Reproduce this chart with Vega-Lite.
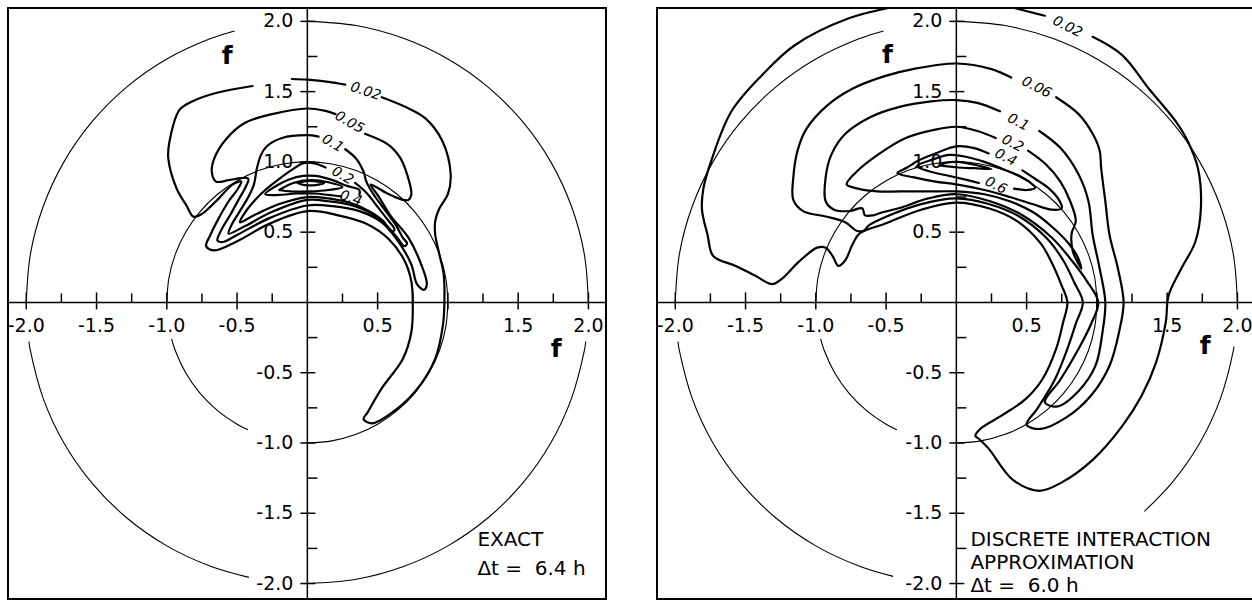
{
"$schema":"https://vega.github.io/schema/vega-lite/v6.json",
"background":"white",
"padding":{"left":6,"top":6,"right":0,"bottom":0},
"spacing":47,
"config":{"view":{"stroke":"#000","strokeWidth":2},"font":"DejaVu Sans"},
"datasets":{
"circ":[
{"s":"a","o":0,"x":1,"y":0},{"s":"a","o":1,"x":0.985,"y":0.174},{"s":"a","o":2,"x":0.94,"y":0.342},{"s":"a","o":3,"x":0.866,"y":0.5},{"s":"a","o":4,"x":0.766,"y":0.643},{"s":"a","o":5,"x":0.643,"y":0.766},{"s":"a","o":6,"x":0.5,"y":0.866},{"s":"a","o":7,"x":0.342,"y":0.94},{"s":"a","o":8,"x":0.174,"y":0.985},{"s":"a","o":9,"x":0,"y":1},{"s":"a","o":10,"x":-0.174,"y":0.985},{"s":"a","o":11,"x":-0.342,"y":0.94},{"s":"a","o":12,"x":-0.5,"y":0.866},{"s":"a","o":13,"x":-0.643,"y":0.766},{"s":"a","o":14,"x":-0.766,"y":0.643},{"s":"a","o":15,"x":-0.866,"y":0.5},{"s":"a","o":16,"x":-0.94,"y":0.342},{"s":"a","o":17,"x":-0.985,"y":0.174},{"s":"a","o":18,"x":-1,"y":0},
{"s":"b","o":0,"x":-0.966,"y":-0.259},{"s":"b","o":1,"x":-0.94,"y":-0.342},{"s":"b","o":2,"x":-0.866,"y":-0.5},{"s":"b","o":3,"x":-0.766,"y":-0.643},{"s":"b","o":4,"x":-0.643,"y":-0.766},{"s":"b","o":5,"x":-0.5,"y":-0.866},{"s":"b","o":6,"x":-0.423,"y":-0.906},
{"s":"c","o":0,"x":0,"y":-1},{"s":"c","o":1,"x":0.174,"y":-0.985},{"s":"c","o":2,"x":0.342,"y":-0.94},{"s":"c","o":3,"x":0.5,"y":-0.866},{"s":"c","o":4,"x":0.643,"y":-0.766},{"s":"c","o":5,"x":0.766,"y":-0.643},{"s":"c","o":6,"x":0.866,"y":-0.5},{"s":"c","o":7,"x":0.94,"y":-0.342},{"s":"c","o":8,"x":0.985,"y":-0.174},{"s":"c","o":9,"x":1,"y":0},
{"s":"d","o":0,"x":2,"y":0},{"s":"d","o":1,"x":1.97,"y":0.347},{"s":"d","o":2,"x":1.879,"y":0.684},{"s":"d","o":3,"x":1.732,"y":1},{"s":"d","o":4,"x":1.532,"y":1.286},{"s":"d","o":5,"x":1.286,"y":1.532},{"s":"d","o":6,"x":1,"y":1.732},{"s":"d","o":7,"x":0.684,"y":1.879},{"s":"d","o":8,"x":0.347,"y":1.97},{"s":"d","o":9,"x":0,"y":2},
{"s":"e","o":0,"x":-0.518,"y":1.932},{"s":"e","o":1,"x":-0.684,"y":1.879},{"s":"e","o":2,"x":-1,"y":1.732},{"s":"e","o":3,"x":-1.286,"y":1.532},{"s":"e","o":4,"x":-1.532,"y":1.286},{"s":"e","o":5,"x":-1.732,"y":1},{"s":"e","o":6,"x":-1.879,"y":0.684},{"s":"e","o":7,"x":-1.97,"y":0.347},{"s":"e","o":8,"x":-2,"y":0}
],
"circL":[
{"s":"f","o":0,"x":-1.981,"y":-0.278},{"s":"f","o":1,"x":-1.97,"y":-0.347},{"s":"f","o":2,"x":-1.879,"y":-0.684},{"s":"f","o":3,"x":-1.732,"y":-1},{"s":"f","o":4,"x":-1.532,"y":-1.286},{"s":"f","o":5,"x":-1.286,"y":-1.532},{"s":"f","o":6,"x":-1,"y":-1.732},{"s":"f","o":7,"x":-0.684,"y":-1.879},{"s":"f","o":8,"x":-0.416,"y":-1.956},
{"s":"g","o":0,"x":0,"y":-2},{"s":"g","o":1,"x":0.347,"y":-1.97},{"s":"g","o":2,"x":0.684,"y":-1.879},{"s":"g","o":3,"x":1,"y":-1.732},{"s":"g","o":4,"x":1.286,"y":-1.532},{"s":"g","o":5,"x":1.532,"y":-1.286},{"s":"g","o":6,"x":1.732,"y":-1},{"s":"g","o":7,"x":1.879,"y":-0.684},{"s":"g","o":8,"x":1.97,"y":-0.347},{"s":"g","o":9,"x":1.981,"y":-0.278}
],
"circR":[
{"s":"f","o":0,"x":-1.981,"y":-0.278},{"s":"f","o":1,"x":-1.97,"y":-0.347},{"s":"f","o":2,"x":-1.879,"y":-0.684},{"s":"f","o":3,"x":-1.732,"y":-1},{"s":"f","o":4,"x":-1.532,"y":-1.286},{"s":"f","o":5,"x":-1.286,"y":-1.532},{"s":"f","o":6,"x":-1,"y":-1.732},{"s":"f","o":7,"x":-0.684,"y":-1.879},{"s":"f","o":8,"x":-0.45,"y":-1.949},
{"s":"g","o":0,"x":1.338,"y":-1.486},{"s":"g","o":1,"x":1.532,"y":-1.286},{"s":"g","o":2,"x":1.732,"y":-1},{"s":"g","o":3,"x":1.879,"y":-0.684},{"s":"g","o":4,"x":1.97,"y":-0.347},{"s":"g","o":5,"x":1.975,"y":-0.313}
],
"conL":[
{"s":"L1a","o":0,"x":0.53,"y":1.46},{"s":"L1a","o":1,"x":0.7,"y":1.39},{"s":"L1a","o":2,"x":0.84,"y":1.31},{"s":"L1a","o":3,"x":0.96,"y":1.15},{"s":"L1a","o":4,"x":1.02,"y":0.91},{"s":"L1a","o":5,"x":1.0,"y":0.77},{"s":"L1a","o":6,"x":0.94,"y":0.67},{"s":"L1a","o":7,"x":0.91,"y":0.58},{"s":"L1a","o":8,"x":0.91,"y":0.48},{"s":"L1a","o":9,"x":0.94,"y":0.34},{"s":"L1a","o":10,"x":0.97,"y":0.2},{"s":"L1a","o":11,"x":0.975,"y":0.0},{"s":"L1a","o":12,"x":0.965,"y":-0.16},{"s":"L1a","o":13,"x":0.91,"y":-0.4},{"s":"L1a","o":14,"x":0.77,"y":-0.63},{"s":"L1a","o":15,"x":0.58,"y":-0.8},{"s":"L1a","o":16,"x":0.46,"y":-0.86},{"s":"L1a","o":17,"x":0.4,"y":-0.83},{"s":"L1a","o":18,"x":0.43,"y":-0.78},{"s":"L1a","o":19,"x":0.53,"y":-0.61},{"s":"L1a","o":20,"x":0.68,"y":-0.4},{"s":"L1a","o":21,"x":0.74,"y":-0.21},{"s":"L1a","o":22,"x":0.75,"y":0.0},{"s":"L1a","o":23,"x":0.74,"y":0.15},{"s":"L1a","o":24,"x":0.69,"y":0.3},{"s":"L1a","o":25,"x":0.58,"y":0.45},{"s":"L1a","o":26,"x":0.42,"y":0.56},{"s":"L1a","o":27,"x":0.22,"y":0.62},{"s":"L1a","o":28,"x":0,"y":0.65},{"s":"L1a","o":29,"x":-0.27,"y":0.56},{"s":"L1a","o":30,"x":-0.51,"y":0.43},{"s":"L1a","o":31,"x":-0.66,"y":0.37},{"s":"L1a","o":32,"x":-0.72,"y":0.4},{"s":"L1a","o":33,"x":-0.69,"y":0.48},{"s":"L1a","o":34,"x":-0.63,"y":0.6},{"s":"L1a","o":35,"x":-0.56,"y":0.72},{"s":"L1a","o":36,"x":-0.5,"y":0.8},{"s":"L1a","o":37,"x":-0.47,"y":0.86},{"s":"L1a","o":38,"x":-0.53,"y":0.84},{"s":"L1a","o":39,"x":-0.65,"y":0.72},{"s":"L1a","o":40,"x":-0.75,"y":0.63},{"s":"L1a","o":41,"x":-0.81,"y":0.61},{"s":"L1a","o":42,"x":-0.86,"y":0.69},{"s":"L1a","o":43,"x":-0.93,"y":0.81},{"s":"L1a","o":44,"x":-0.99,"y":1.03},{"s":"L1a","o":45,"x":-0.98,"y":1.15},{"s":"L1a","o":46,"x":-0.91,"y":1.37},{"s":"L1a","o":47,"x":-0.82,"y":1.43},{"s":"L1a","o":48,"x":-0.65,"y":1.49},{"s":"L1a","o":49,"x":-0.39,"y":1.54},
{"s":"L1b","o":0,"x":-0.11,"y":1.59},{"s":"L1b","o":1,"x":0,"y":1.585},{"s":"L1b","o":2,"x":0.15,"y":1.57},{"s":"L1b","o":3,"x":0.27,"y":1.55},
{"s":"L2","o":0,"x":0.41,"y":1.2},{"s":"L2","o":1,"x":0.58,"y":1.12},{"s":"L2","o":2,"x":0.66,"y":1.03},{"s":"L2","o":3,"x":0.71,"y":0.91},{"s":"L2","o":4,"x":0.74,"y":0.77},{"s":"L2","o":5,"x":0.72,"y":0.73},{"s":"L2","o":6,"x":0.68,"y":0.73},{"s":"L2","o":7,"x":0.56,"y":0.78},{"s":"L2","o":8,"x":0.45,"y":0.84},{"s":"L2","o":9,"x":0.51,"y":0.75},{"s":"L2","o":10,"x":0.59,"y":0.62},{"s":"L2","o":11,"x":0.72,"y":0.46},{"s":"L2","o":12,"x":0.81,"y":0.27},{"s":"L2","o":13,"x":0.85,"y":0.13},{"s":"L2","o":14,"x":0.83,"y":0.09},{"s":"L2","o":15,"x":0.78,"y":0.13},{"s":"L2","o":16,"x":0.74,"y":0.27},{"s":"L2","o":17,"x":0.65,"y":0.43},{"s":"L2","o":18,"x":0.53,"y":0.57},{"s":"L2","o":19,"x":0.37,"y":0.65},{"s":"L2","o":20,"x":0.18,"y":0.685},{"s":"L2","o":21,"x":0,"y":0.69},{"s":"L2","o":22,"x":-0.27,"y":0.6},{"s":"L2","o":23,"x":-0.5,"y":0.48},{"s":"L2","o":24,"x":-0.6,"y":0.43},{"s":"L2","o":25,"x":-0.64,"y":0.44},{"s":"L2","o":26,"x":-0.61,"y":0.52},{"s":"L2","o":27,"x":-0.55,"y":0.62},{"s":"L2","o":28,"x":-0.49,"y":0.73},{"s":"L2","o":29,"x":-0.44,"y":0.82},{"s":"L2","o":30,"x":-0.42,"y":0.88},{"s":"L2","o":31,"x":-0.47,"y":0.885},{"s":"L2","o":32,"x":-0.56,"y":0.87},{"s":"L2","o":33,"x":-0.65,"y":0.86},{"s":"L2","o":34,"x":-0.68,"y":0.93},{"s":"L2","o":35,"x":-0.66,"y":1.03},{"s":"L2","o":36,"x":-0.58,"y":1.16},{"s":"L2","o":37,"x":-0.44,"y":1.28},{"s":"L2","o":38,"x":-0.25,"y":1.34},{"s":"L2","o":39,"x":0,"y":1.38},{"s":"L2","o":40,"x":0.12,"y":1.365},{"s":"L2","o":41,"x":0.2,"y":1.34},
{"s":"L3","o":0,"x":0.27,"y":1.09},{"s":"L3","o":1,"x":0.35,"y":1.02},{"s":"L3","o":2,"x":0.4,"y":0.93},{"s":"L3","o":3,"x":0.42,"y":0.86},{"s":"L3","o":4,"x":0.47,"y":0.77},{"s":"L3","o":5,"x":0.55,"y":0.66},{"s":"L3","o":6,"x":0.63,"y":0.55},{"s":"L3","o":7,"x":0.68,"y":0.46},{"s":"L3","o":8,"x":0.71,"y":0.42},{"s":"L3","o":9,"x":0.69,"y":0.4},{"s":"L3","o":10,"x":0.64,"y":0.46},{"s":"L3","o":11,"x":0.56,"y":0.55},{"s":"L3","o":12,"x":0.45,"y":0.635},{"s":"L3","o":13,"x":0.3,"y":0.695},{"s":"L3","o":14,"x":0.15,"y":0.72},{"s":"L3","o":15,"x":0,"y":0.73},{"s":"L3","o":16,"x":-0.25,"y":0.645},{"s":"L3","o":17,"x":-0.45,"y":0.54},{"s":"L3","o":18,"x":-0.56,"y":0.49},{"s":"L3","o":19,"x":-0.54,"y":0.55},{"s":"L3","o":20,"x":-0.48,"y":0.65},{"s":"L3","o":21,"x":-0.42,"y":0.75},{"s":"L3","o":22,"x":-0.38,"y":0.84},{"s":"L3","o":23,"x":-0.36,"y":0.95},{"s":"L3","o":24,"x":-0.33,"y":1.05},{"s":"L3","o":25,"x":-0.29,"y":1.11},{"s":"L3","o":26,"x":-0.18,"y":1.17},{"s":"L3","o":27,"x":0,"y":1.19},{"s":"L3","o":28,"x":0.08,"y":1.18},
{"s":"L4","o":0,"x":0.34,"y":0.85},{"s":"L4","o":1,"x":0.42,"y":0.78},{"s":"L4","o":2,"x":0.5,"y":0.68},{"s":"L4","o":3,"x":0.57,"y":0.59},{"s":"L4","o":4,"x":0.62,"y":0.52},{"s":"L4","o":5,"x":0.6,"y":0.5},{"s":"L4","o":6,"x":0.54,"y":0.58},{"s":"L4","o":7,"x":0.44,"y":0.65},{"s":"L4","o":8,"x":0.3,"y":0.71},{"s":"L4","o":9,"x":0.15,"y":0.74},{"s":"L4","o":10,"x":0,"y":0.75},{"s":"L4","o":11,"x":-0.2,"y":0.7},{"s":"L4","o":12,"x":-0.38,"y":0.62},{"s":"L4","o":13,"x":-0.48,"y":0.57},{"s":"L4","o":14,"x":-0.45,"y":0.63},{"s":"L4","o":15,"x":-0.38,"y":0.72},{"s":"L4","o":16,"x":-0.3,"y":0.8},{"s":"L4","o":17,"x":-0.2,"y":0.88},{"s":"L4","o":18,"x":-0.1,"y":0.95},{"s":"L4","o":19,"x":-0.03,"y":0.99},{"s":"L4","o":20,"x":0.05,"y":0.99},{"s":"L4","o":21,"x":0.13,"y":0.96},
{"s":"L5","o":0,"x":0.37,"y":0.765},{"s":"L5","o":1,"x":0.37,"y":0.8},{"s":"L5","o":2,"x":0.28,"y":0.83},{"s":"L5","o":3,"x":0.18,"y":0.87},{"s":"L5","o":4,"x":0.06,"y":0.9},{"s":"L5","o":5,"x":-0.03,"y":0.9},{"s":"L5","o":6,"x":-0.13,"y":0.875},{"s":"L5","o":7,"x":-0.22,"y":0.83},{"s":"L5","o":8,"x":-0.3,"y":0.77},{"s":"L5","o":9,"x":-0.2,"y":0.765},{"s":"L5","o":10,"x":-0.08,"y":0.775},{"s":"L5","o":11,"x":0.05,"y":0.775},{"s":"L5","o":12,"x":0.15,"y":0.765},{"s":"L5","o":13,"x":0.24,"y":0.755},
{"s":"L6","o":0,"x":-0.2,"y":0.8},{"s":"L6","o":1,"x":-0.1,"y":0.85},{"s":"L6","o":2,"x":0.02,"y":0.87},{"s":"L6","o":3,"x":0.15,"y":0.855},{"s":"L6","o":4,"x":0.25,"y":0.82},{"s":"L6","o":5,"x":0.15,"y":0.8},{"s":"L6","o":6,"x":0.02,"y":0.79},{"s":"L6","o":7,"x":-0.12,"y":0.79},{"s":"L6","o":8,"x":-0.2,"y":0.8},
{"s":"L7","o":0,"x":-0.07,"y":0.85},{"s":"L7","o":1,"x":0,"y":0.865},{"s":"L7","o":2,"x":0.08,"y":0.86},{"s":"L7","o":3,"x":0.12,"y":0.85},{"s":"L7","o":4,"x":0.06,"y":0.835},{"s":"L7","o":5,"x":-0.02,"y":0.835},{"s":"L7","o":6,"x":-0.07,"y":0.85}
],
"conR":[
{"s":"R1","o":0,"x":0.97,"y":1.89},{"s":"R1","o":1,"x":1.18,"y":1.76},{"s":"R1","o":2,"x":1.37,"y":1.52},{"s":"R1","o":3,"x":1.56,"y":1.29},{"s":"R1","o":4,"x":1.65,"y":1.14},{"s":"R1","o":5,"x":1.72,"y":0.95},{"s":"R1","o":6,"x":1.74,"y":0.67},{"s":"R1","o":7,"x":1.7,"y":0.43},{"s":"R1","o":8,"x":1.6,"y":0.24},{"s":"R1","o":9,"x":1.51,"y":0.05},{"s":"R1","o":10,"x":1.49,"y":-0.14},{"s":"R1","o":11,"x":1.42,"y":-0.43},{"s":"R1","o":12,"x":1.32,"y":-0.66},{"s":"R1","o":13,"x":1.18,"y":-0.88},{"s":"R1","o":14,"x":0.97,"y":-1.12},{"s":"R1","o":15,"x":0.75,"y":-1.28},{"s":"R1","o":16,"x":0.59,"y":-1.34},{"s":"R1","o":17,"x":0.4,"y":-1.26},{"s":"R1","o":18,"x":0.23,"y":-1.04},{"s":"R1","o":19,"x":0.16,"y":-0.97},{"s":"R1","o":20,"x":0.135,"y":-0.95},{"s":"R1","o":21,"x":0.17,"y":-0.9},{"s":"R1","o":22,"x":0.33,"y":-0.8},{"s":"R1","o":23,"x":0.49,"y":-0.69},{"s":"R1","o":24,"x":0.61,"y":-0.55},{"s":"R1","o":25,"x":0.71,"y":-0.33},{"s":"R1","o":26,"x":0.76,"y":-0.14},{"s":"R1","o":27,"x":0.79,"y":0.0},{"s":"R1","o":28,"x":0.745,"y":0.13},{"s":"R1","o":29,"x":0.68,"y":0.28},{"s":"R1","o":30,"x":0.6,"y":0.42},{"s":"R1","o":31,"x":0.43,"y":0.58},{"s":"R1","o":32,"x":0.23,"y":0.67},{"s":"R1","o":33,"x":0,"y":0.71},{"s":"R1","o":34,"x":-0.25,"y":0.66},{"s":"R1","o":35,"x":-0.51,"y":0.56},{"s":"R1","o":36,"x":-0.69,"y":0.49},{"s":"R1","o":37,"x":-0.74,"y":0.41},{"s":"R1","o":38,"x":-0.79,"y":0.3},{"s":"R1","o":39,"x":-0.84,"y":0.26},{"s":"R1","o":40,"x":-0.88,"y":0.33},{"s":"R1","o":41,"x":-0.93,"y":0.39},{"s":"R1","o":42,"x":-0.99,"y":0.39},{"s":"R1","o":43,"x":-1.12,"y":0.29},{"s":"R1","o":44,"x":-1.24,"y":0.17},{"s":"R1","o":45,"x":-1.31,"y":0.13},{"s":"R1","o":46,"x":-1.43,"y":0.19},{"s":"R1","o":47,"x":-1.57,"y":0.26},{"s":"R1","o":48,"x":-1.73,"y":0.33},{"s":"R1","o":49,"x":-1.77,"y":0.48},{"s":"R1","o":50,"x":-1.81,"y":0.66},{"s":"R1","o":51,"x":-1.8,"y":0.81},{"s":"R1","o":52,"x":-1.74,"y":1.02},{"s":"R1","o":53,"x":-1.6,"y":1.36},{"s":"R1","o":54,"x":-1.38,"y":1.62},{"s":"R1","o":55,"x":-1.15,"y":1.83},{"s":"R1","o":56,"x":-0.77,"y":2.02},{"s":"R1","o":57,"x":-0.38,"y":2.12},{"s":"R1","o":58,"x":-0.1,"y":2.2},{"s":"R1","o":59,"x":0.2,"y":2.16},{"s":"R1","o":60,"x":0.36,"y":2.11},{"s":"R1","o":61,"x":0.63,"y":2.04},
{"s":"R2","o":0,"x":0.71,"y":1.46},{"s":"R2","o":1,"x":0.87,"y":1.34},{"s":"R2","o":2,"x":0.97,"y":1.2},{"s":"R2","o":3,"x":1.02,"y":1.08},{"s":"R2","o":4,"x":1.03,"y":0.96},{"s":"R2","o":5,"x":1.06,"y":0.72},{"s":"R2","o":6,"x":1.09,"y":0.48},{"s":"R2","o":7,"x":1.15,"y":0.24},{"s":"R2","o":8,"x":1.19,"y":0.0},{"s":"R2","o":9,"x":1.16,"y":-0.2},{"s":"R2","o":10,"x":1.09,"y":-0.45},{"s":"R2","o":11,"x":0.96,"y":-0.66},{"s":"R2","o":12,"x":0.78,"y":-0.82},{"s":"R2","o":13,"x":0.6,"y":-0.9},{"s":"R2","o":14,"x":0.5,"y":-0.87},{"s":"R2","o":15,"x":0.58,"y":-0.75},{"s":"R2","o":16,"x":0.7,"y":-0.55},{"s":"R2","o":17,"x":0.79,"y":-0.33},{"s":"R2","o":18,"x":0.85,"y":-0.15},{"s":"R2","o":19,"x":0.9,"y":0.0},{"s":"R2","o":20,"x":0.84,"y":0.14},{"s":"R2","o":21,"x":0.76,"y":0.3},{"s":"R2","o":22,"x":0.64,"y":0.46},{"s":"R2","o":23,"x":0.45,"y":0.61},{"s":"R2","o":24,"x":0.23,"y":0.7},{"s":"R2","o":25,"x":0,"y":0.74},{"s":"R2","o":26,"x":-0.25,"y":0.7},{"s":"R2","o":27,"x":-0.5,"y":0.61},{"s":"R2","o":28,"x":-0.62,"y":0.55},{"s":"R2","o":29,"x":-0.66,"y":0.51},{"s":"R2","o":30,"x":-0.71,"y":0.51},{"s":"R2","o":31,"x":-0.79,"y":0.57},{"s":"R2","o":32,"x":-0.92,"y":0.61},{"s":"R2","o":33,"x":-1.09,"y":0.65},{"s":"R2","o":34,"x":-1.16,"y":0.73},{"s":"R2","o":35,"x":-1.16,"y":0.89},{"s":"R2","o":36,"x":-1.13,"y":1.08},{"s":"R2","o":37,"x":-1.07,"y":1.23},{"s":"R2","o":38,"x":-0.92,"y":1.4},{"s":"R2","o":39,"x":-0.74,"y":1.52},{"s":"R2","o":40,"x":-0.51,"y":1.61},{"s":"R2","o":41,"x":-0.31,"y":1.66},{"s":"R2","o":42,"x":0,"y":1.7},{"s":"R2","o":43,"x":0.25,"y":1.66},{"s":"R2","o":44,"x":0.39,"y":1.6},
{"s":"R3","o":0,"x":0.59,"y":1.22},{"s":"R3","o":1,"x":0.74,"y":1.1},{"s":"R3","o":2,"x":0.87,"y":0.91},{"s":"R3","o":3,"x":0.94,"y":0.72},{"s":"R3","o":4,"x":0.97,"y":0.48},{"s":"R3","o":5,"x":1.02,"y":0.24},{"s":"R3","o":6,"x":1.06,"y":0.0},{"s":"R3","o":7,"x":1.04,"y":-0.21},{"s":"R3","o":8,"x":0.99,"y":-0.45},{"s":"R3","o":9,"x":0.87,"y":-0.63},{"s":"R3","o":10,"x":0.72,"y":-0.74},{"s":"R3","o":11,"x":0.63,"y":-0.71},{"s":"R3","o":12,"x":0.74,"y":-0.55},{"s":"R3","o":13,"x":0.87,"y":-0.33},{"s":"R3","o":14,"x":0.96,"y":-0.15},{"s":"R3","o":15,"x":1.01,"y":0.0},{"s":"R3","o":16,"x":0.93,"y":0.15},{"s":"R3","o":17,"x":0.82,"y":0.3},{"s":"R3","o":18,"x":0.68,"y":0.46},{"s":"R3","o":19,"x":0.47,"y":0.62},{"s":"R3","o":20,"x":0.24,"y":0.72},{"s":"R3","o":21,"x":0,"y":0.77},{"s":"R3","o":22,"x":-0.2,"y":0.74},{"s":"R3","o":23,"x":-0.41,"y":0.67},{"s":"R3","o":24,"x":-0.53,"y":0.64},{"s":"R3","o":25,"x":-0.59,"y":0.62},{"s":"R3","o":26,"x":-0.65,"y":0.62},{"s":"R3","o":27,"x":-0.67,"y":0.67},{"s":"R3","o":28,"x":-0.76,"y":0.65},{"s":"R3","o":29,"x":-0.87,"y":0.66},{"s":"R3","o":30,"x":-0.93,"y":0.72},{"s":"R3","o":31,"x":-0.93,"y":0.89},{"s":"R3","o":32,"x":-0.89,"y":1.05},{"s":"R3","o":33,"x":-0.79,"y":1.2},{"s":"R3","o":34,"x":-0.61,"y":1.32},{"s":"R3","o":35,"x":-0.41,"y":1.39},{"s":"R3","o":36,"x":-0.18,"y":1.43},{"s":"R3","o":37,"x":0,"y":1.44},{"s":"R3","o":38,"x":0.15,"y":1.42},{"s":"R3","o":39,"x":0.31,"y":1.36},
{"s":"R4","o":0,"x":0.51,"y":1.08},{"s":"R4","o":1,"x":0.64,"y":0.98},{"s":"R4","o":2,"x":0.74,"y":0.86},{"s":"R4","o":3,"x":0.81,"y":0.72},{"s":"R4","o":4,"x":0.85,"y":0.58},{"s":"R4","o":5,"x":0.82,"y":0.49},{"s":"R4","o":6,"x":0.83,"y":0.36},{"s":"R4","o":7,"x":0.89,"y":0.24},{"s":"R4","o":8,"x":0.86,"y":0.33},{"s":"R4","o":9,"x":0.79,"y":0.43},{"s":"R4","o":10,"x":0.69,"y":0.53},{"s":"R4","o":11,"x":0.55,"y":0.64},{"s":"R4","o":12,"x":0.38,"y":0.72},{"s":"R4","o":13,"x":0.2,"y":0.77},{"s":"R4","o":14,"x":0,"y":0.79},{"s":"R4","o":15,"x":-0.2,"y":0.79},{"s":"R4","o":16,"x":-0.4,"y":0.79},{"s":"R4","o":17,"x":-0.56,"y":0.79},{"s":"R4","o":18,"x":-0.7,"y":0.81},{"s":"R4","o":19,"x":-0.78,"y":0.84},{"s":"R4","o":20,"x":-0.71,"y":0.93},{"s":"R4","o":21,"x":-0.56,"y":1.05},{"s":"R4","o":22,"x":-0.36,"y":1.17},{"s":"R4","o":23,"x":-0.15,"y":1.23},{"s":"R4","o":24,"x":0,"y":1.25},{"s":"R4","o":25,"x":0.15,"y":1.22},{"s":"R4","o":26,"x":0.28,"y":1.17},
{"s":"R5","o":0,"x":0.47,"y":0.94},{"s":"R5","o":1,"x":0.56,"y":0.88},{"s":"R5","o":2,"x":0.66,"y":0.81},{"s":"R5","o":3,"x":0.73,"y":0.73},{"s":"R5","o":4,"x":0.75,"y":0.67},{"s":"R5","o":5,"x":0.68,"y":0.66},{"s":"R5","o":6,"x":0.54,"y":0.7},{"s":"R5","o":7,"x":0.38,"y":0.75},{"s":"R5","o":8,"x":0.2,"y":0.8},{"s":"R5","o":9,"x":0,"y":0.84},{"s":"R5","o":10,"x":-0.15,"y":0.86},{"s":"R5","o":11,"x":-0.3,"y":0.89},{"s":"R5","o":12,"x":-0.42,"y":0.92},{"s":"R5","o":13,"x":-0.35,"y":0.96},{"s":"R5","o":14,"x":-0.27,"y":1.01},{"s":"R5","o":15,"x":-0.15,"y":1.06},{"s":"R5","o":16,"x":0,"y":1.11},{"s":"R5","o":17,"x":0.12,"y":1.1},{"s":"R5","o":18,"x":0.23,"y":1.06},
{"s":"R6","o":0,"x":0.41,"y":0.81},{"s":"R6","o":1,"x":0.5,"y":0.8},{"s":"R6","o":2,"x":0.56,"y":0.815},{"s":"R6","o":3,"x":0.53,"y":0.85},{"s":"R6","o":4,"x":0.45,"y":0.9},{"s":"R6","o":5,"x":0.33,"y":0.95},{"s":"R6","o":6,"x":0.2,"y":1.0},{"s":"R6","o":7,"x":0.05,"y":1.04},{"s":"R6","o":8,"x":-0.05,"y":1.05},{"s":"R6","o":9,"x":-0.16,"y":1.02},{"s":"R6","o":10,"x":-0.28,"y":0.97},{"s":"R6","o":11,"x":-0.2,"y":0.935},{"s":"R6","o":12,"x":-0.05,"y":0.9},{"s":"R6","o":13,"x":0.08,"y":0.87},{"s":"R6","o":14,"x":0.16,"y":0.85},
{"s":"R7","o":0,"x":-0.12,"y":0.975},{"s":"R7","o":1,"x":-0.07,"y":0.995},{"s":"R7","o":2,"x":0.01,"y":1.0},{"s":"R7","o":3,"x":0.13,"y":0.98},{"s":"R7","o":4,"x":0.25,"y":0.95},{"s":"R7","o":5,"x":0.13,"y":0.955},{"s":"R7","o":6,"x":0.01,"y":0.96},{"s":"R7","o":7,"x":-0.12,"y":0.975}
],
"axes":[{"x":-2.13,"y":0,"x2":2.125,"y2":0},{"x":0,"y":-2.11,"x2":0,"y2":2.095}],
"xticks":[{"x":-2,"y":0,"m":1},{"x":-1.75,"y":0,"m":0},{"x":-1.5,"y":0,"m":1},{"x":-1.25,"y":0,"m":0},{"x":-1,"y":0,"m":1},{"x":-0.75,"y":0,"m":0},{"x":-0.5,"y":0,"m":1},{"x":-0.25,"y":0,"m":0},{"x":0.25,"y":0,"m":0},{"x":0.5,"y":0,"m":1},{"x":0.75,"y":0,"m":0},{"x":1,"y":0,"m":1},{"x":1.25,"y":0,"m":0},{"x":1.5,"y":0,"m":1},{"x":1.75,"y":0,"m":0},{"x":2,"y":0,"m":1}],
"yticks":[{"y":-2,"x":0,"m":1},{"y":-1.75,"x":0,"m":0},{"y":-1.5,"x":0,"m":1},{"y":-1.25,"x":0,"m":0},{"y":-1,"x":0,"m":1},{"y":-0.75,"x":0,"m":0},{"y":-0.5,"x":0,"m":1},{"y":-0.25,"x":0,"m":0},{"y":0.25,"x":0,"m":0},{"y":0.5,"x":0,"m":1},{"y":0.75,"x":0,"m":0},{"y":1,"x":0,"m":1},{"y":1.25,"x":0,"m":0},{"y":1.5,"x":0,"m":1},{"y":1.75,"x":0,"m":0},{"y":2,"x":0,"m":1}],
"xlab":[{"x":-2,"y":0,"t":"-2.0"},{"x":-1.5,"y":0,"t":"-1.5"},{"x":-1,"y":0,"t":"-1.0"},{"x":-0.5,"y":0,"t":"-0.5"},{"x":0.5,"y":0,"t":"0.5"},{"x":1.5,"y":0,"t":"1.5"},{"x":2,"y":0,"t":"2.0"}],
"ylab":[{"x":0,"y":2,"t":"2.0"},{"x":0,"y":1.5,"t":"1.5"},{"x":0,"y":1,"t":"1.0"},{"x":0,"y":0.5,"t":"0.5"},{"x":0,"y":-0.5,"t":"-0.5"},{"x":0,"y":-1,"t":"-1.0"},{"x":0,"y":-1.5,"t":"-1.5"},{"x":0,"y":-2,"t":"-2.0"}],
"fL":[{"x":-0.57,"y":1.75,"t":"f"},{"x":1.77,"y":-0.33,"t":"f"}],
"fR":[{"x":-0.49,"y":1.76,"t":"f"},{"x":1.77,"y":-0.31,"t":"f"}],
"noteL":[{"x":1.21,"y":-1.69,"t":"EXACT"},{"x":1.21,"y":-1.895,"t":"Δt =\u00a0 6.4 h"}],
"noteR":[{"x":0.1,"y":-1.69,"t":"DISCRETE INTERACTION"},{"x":0.1,"y":-1.855,"t":"APPROXIMATION"},{"x":0.1,"y":-2.015,"t":"Δt =\u00a0 6.0 h"}],
"clabL":[{"x":0.415,"y":1.5,"t":"0.02"},{"x":0.3,"y":1.28,"t":"0.05"},{"x":0.18,"y":1.13,"t":"0.1"},{"x":0.25,"y":0.9,"t":"0.2"},{"x":0.31,"y":0.74,"t":"0.4"}],
"clabR":[{"x":0.79,"y":1.96,"t":"0.02"},{"x":0.57,"y":1.53,"t":"0.06"},{"x":0.44,"y":1.28,"t":"0.1"},{"x":0.4,"y":1.13,"t":"0.2"},{"x":0.35,"y":1.03,"t":"0.4"},{"x":0.28,"y":0.83,"t":"0.6"}]
},
"hconcat":[
{"width":598,"height":591,
"encoding":{"x":{"field":"x","type":"quantitative","scale":{"domain":[-2.13,2.125],"nice":false,"zero":false},"axis":null},"y":{"field":"y","type":"quantitative","scale":{"domain":[-2.11,2.095],"nice":false,"zero":false},"axis":null}},
"layer":[
{"data":{"name":"circ"},"mark":{"type":"line","interpolate":"catmull-rom","strokeWidth":1.1,"color":"#000","clip":true},"encoding":{"detail":{"field":"s"},"order":{"field":"o","type":"quantitative"}}},
{"data":{"name":"circL"},"mark":{"type":"line","interpolate":"catmull-rom","strokeWidth":1.1,"color":"#000","clip":true},"encoding":{"detail":{"field":"s"},"order":{"field":"o","type":"quantitative"}}},
{"data":{"name":"conL"},"mark":{"type":"line","interpolate":"catmull-rom","strokeWidth":2.2,"strokeJoin":"round","strokeCap":"round","color":"#000","clip":true},"encoding":{"detail":{"field":"s"},"order":{"field":"o","type":"quantitative"}}},
{"data":{"name":"axes"},"mark":{"type":"rule","strokeWidth":1.5,"color":"#000"},"encoding":{"x2":{"field":"x2"},"y2":{"field":"y2"}}},
{"data":{"name":"xticks"},"transform":[{"filter":"datum.m==1"}],"mark":{"type":"tick","orient":"vertical","size":17,"thickness":1.5,"yOffset":-1.5,"color":"#000","opacity":1}},
{"data":{"name":"xticks"},"transform":[{"filter":"datum.m==0"}],"mark":{"type":"tick","orient":"vertical","size":9,"thickness":1.5,"yOffset":-4.5,"color":"#000","opacity":1}},
{"data":{"name":"yticks"},"transform":[{"filter":"datum.m==1"}],"mark":{"type":"tick","orient":"horizontal","size":15,"thickness":1.5,"xOffset":0.5,"color":"#000","opacity":1}},
{"data":{"name":"yticks"},"transform":[{"filter":"datum.m==0"}],"mark":{"type":"tick","orient":"horizontal","size":10,"thickness":1.5,"xOffset":5,"color":"#000","opacity":1}},
{"data":{"name":"xlab"},"mark":{"type":"text","dy":24,"fontSize":19,"align":"center","baseline":"middle","color":"#000"},"encoding":{"text":{"field":"t"}}},
{"data":{"name":"ylab"},"mark":{"type":"text","dx":-14,"fontSize":19,"align":"right","baseline":"middle","color":"#000"},"encoding":{"text":{"field":"t"}}},
{"data":{"name":"fL"},"mark":{"type":"text","fontSize":25,"fontWeight":"bold","align":"center","baseline":"middle","color":"#000"},"encoding":{"text":{"field":"t"}}},
{"data":{"name":"noteL"},"mark":{"type":"text","fontSize":20,"align":"left","baseline":"middle","color":"#000"},"encoding":{"text":{"field":"t"}}},
{"data":{"name":"clabL"},"transform":[{"filter":{"field":"t","oneOf":["0.02","0.4"]}}],"mark":{"type":"text","fontSize":14,"fontStyle":"italic","angle":18,"align":"center","baseline":"middle","color":"#000"},"encoding":{"text":{"field":"t"}}},
{"data":{"name":"clabL"},"transform":[{"filter":{"field":"t","oneOf":["0.05","0.1","0.2"]}}],"mark":{"type":"text","fontSize":14,"fontStyle":"italic","angle":30,"align":"center","baseline":"middle","color":"#000"},"encoding":{"text":{"field":"t"}}}
]},
{"width":598,"height":591,
"encoding":{"x":{"field":"x","type":"quantitative","scale":{"domain":[-2.13,2.125],"nice":false,"zero":false},"axis":null},"y":{"field":"y","type":"quantitative","scale":{"domain":[-2.11,2.095],"nice":false,"zero":false},"axis":null}},
"layer":[
{"data":{"name":"circ"},"mark":{"type":"line","interpolate":"catmull-rom","strokeWidth":1.1,"color":"#000","clip":true},"encoding":{"detail":{"field":"s"},"order":{"field":"o","type":"quantitative"}}},
{"data":{"name":"circR"},"mark":{"type":"line","interpolate":"catmull-rom","strokeWidth":1.1,"color":"#000","clip":true},"encoding":{"detail":{"field":"s"},"order":{"field":"o","type":"quantitative"}}},
{"data":{"name":"conR"},"mark":{"type":"line","interpolate":"catmull-rom","strokeWidth":2.2,"strokeJoin":"round","strokeCap":"round","color":"#000","clip":true},"encoding":{"detail":{"field":"s"},"order":{"field":"o","type":"quantitative"}}},
{"data":{"name":"axes"},"mark":{"type":"rule","strokeWidth":1.5,"color":"#000"},"encoding":{"x2":{"field":"x2"},"y2":{"field":"y2"}}},
{"data":{"name":"xticks"},"transform":[{"filter":"datum.m==1"}],"mark":{"type":"tick","orient":"vertical","size":17,"thickness":1.5,"yOffset":-1.5,"color":"#000","opacity":1}},
{"data":{"name":"xticks"},"transform":[{"filter":"datum.m==0"}],"mark":{"type":"tick","orient":"vertical","size":9,"thickness":1.5,"yOffset":-4.5,"color":"#000","opacity":1}},
{"data":{"name":"yticks"},"transform":[{"filter":"datum.m==1"}],"mark":{"type":"tick","orient":"horizontal","size":15,"thickness":1.5,"xOffset":0.5,"color":"#000","opacity":1}},
{"data":{"name":"yticks"},"transform":[{"filter":"datum.m==0"}],"mark":{"type":"tick","orient":"horizontal","size":10,"thickness":1.5,"xOffset":5,"color":"#000","opacity":1}},
{"data":{"name":"xlab"},"mark":{"type":"text","dy":24,"fontSize":19,"align":"center","baseline":"middle","color":"#000"},"encoding":{"text":{"field":"t"}}},
{"data":{"name":"ylab"},"mark":{"type":"text","dx":-14,"fontSize":19,"align":"right","baseline":"middle","color":"#000"},"encoding":{"text":{"field":"t"}}},
{"data":{"name":"fR"},"mark":{"type":"text","fontSize":25,"fontWeight":"bold","align":"center","baseline":"middle","color":"#000"},"encoding":{"text":{"field":"t"}}},
{"data":{"name":"noteR"},"mark":{"type":"text","fontSize":20,"align":"left","baseline":"middle","color":"#000"},"encoding":{"text":{"field":"t"}}},
{"data":{"name":"clabR"},"mark":{"type":"text","fontSize":14,"fontStyle":"italic","angle":27,"align":"center","baseline":"middle","color":"#000"},"encoding":{"text":{"field":"t"}}}
]}
]
}
